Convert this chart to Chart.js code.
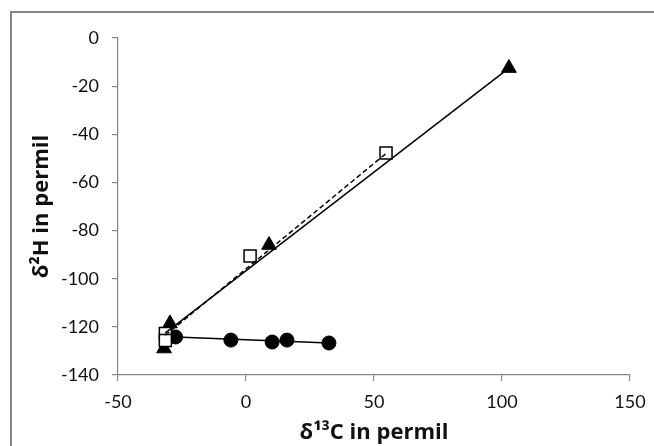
<!DOCTYPE html>
<html>
<head>
<meta charset="utf-8">
<script src="https://cdn.jsdelivr.net/npm/chart.js@4/dist/chart.umd.min.js"></script>
<style>
  html, body { margin: 0; padding: 0; background: #ffffff; }
  #wrap { width: 654px; height: 446px; position: relative; }
</style>
</head>
<body>
<div id="wrap"><canvas id="c" width="654" height="446"></canvas></div>
<script>
// ---- data ----
const circleX = [-27.5, -5.9, 10.2, 16.0, 32.4];
const circleY = [-124.2, -125.5, -126.3, -125.5, -126.7];

const triangleX = [-32.0, -29.7, 9.0, 102.7];
const triangleY = [-129.0, -118.6, -86.0, -12.5];

const squareX = [-31.5, -31.5, 1.6, 54.7];
const squareY = [-122.8, -125.7, -90.6, -47.8];

const triangleTrendX = [-31.6, 102.7];
const triangleTrendY = [-122.6, -12.5];
const squareTrendX = [-31.5, 54.7];
const squareTrendY = [-123.5, -48.0];
const circleTrendX = [-27.5, 32.4];
const circleTrendY = [-124.2, -126.7];

const xTicks = [-50, 0, 50, 100, 150];
const yTicks = [-140, -120, -100, -80, -60, -40, -20, 0];

const xTitle = 'δ¹³C in permil';
const yTitle = 'δ²H in permil';

function pts(xs, ys) { return xs.map((x, i) => ({ x: x, y: ys[i] })); }

const frame = {
  id: 'frame',
  beforeDraw(chart) {
    const ctx = chart.ctx;
    ctx.save();
    ctx.fillStyle = '#ffffff';
    ctx.fillRect(0, 0, chart.width, chart.height);
    ctx.strokeStyle = '#868686';
    ctx.lineWidth = 2;
    ctx.strokeRect(11, 12, 800, 600);
    ctx.restore();
  }
};

const tickFont = { family: 'Lato, "Open Sans", sans-serif', size: 18 };
const titleFont = { family: '"Open Sans", Lato, sans-serif', size: 22, weight: 'bold' };

new Chart(document.getElementById('c'), {
  type: 'scatter',
  data: {
    datasets: [
      { label: 'triangle trend', data: pts(triangleTrendX, triangleTrendY), showLine: true,
        borderColor: '#000', borderWidth: 1.5, pointRadius: 0, fill: false },
      { label: 'square trend', data: pts(squareTrendX, squareTrendY), showLine: true,
        borderColor: '#000', borderWidth: 1.5, borderDash: [5, 3], pointRadius: 0, fill: false },
      { label: 'circle trend', data: pts(circleTrendX, circleTrendY), showLine: true,
        borderColor: '#000', borderWidth: 1.5, pointRadius: 0, fill: false },
      { label: 'squares', data: pts(squareX, squareY), pointStyle: 'rect', pointRadius: 8.5,
        backgroundColor: '#fff', borderColor: '#000', borderWidth: 1.5 },
      { label: 'triangles', data: pts(triangleX, triangleY), pointStyle: 'triangle', pointRadius: 8.5,
        backgroundColor: '#000', borderColor: '#000', borderWidth: 1 },
      { label: 'circles', data: pts(circleX, circleY), pointStyle: 'circle', pointRadius: 7,
        backgroundColor: '#000', borderColor: '#000', borderWidth: 1 }
    ]
  },
  options: {
    responsive: false,
    animation: false,
    layout: { padding: { left: 0, top: 38, right: 24, bottom: 0 } },
    plugins: { legend: { display: false }, tooltip: { enabled: false } },
    elements: { point: { hoverRadius: 0 } },
    scales: {
      x: {
        type: 'linear', min: -50, max: 150,
        afterBuildTicks: (s) => { s.ticks = xTicks.map(v => ({ value: v })); },
        afterFit: (s) => { s.height = 71; s.paddingLeft = 0; s.paddingRight = 0; },
        ticks: { font: tickFont, color: '#111', padding: 10, maxRotation: 0 },
        grid: { display: true, drawOnChartArea: false, drawTicks: true, tickLength: 6, color: '#868686', lineWidth: 1.2 },
        border: { display: true, color: '#868686', width: 1.2 },
        title: { display: true, text: xTitle, font: titleFont, color: '#111', padding: { top: 0, bottom: 0 } }
      },
      y: {
        type: 'linear', min: -140, max: 0,
        afterBuildTicks: (s) => { s.ticks = yTicks.map(v => ({ value: v })); },
        afterFit: (s) => { s.width = 118; },
        ticks: { font: tickFont, color: '#111', padding: 13 },
        grid: { display: true, drawOnChartArea: false, drawTicks: true, tickLength: 6, color: '#868686', lineWidth: 1.2 },
        border: { display: true, color: '#868686', width: 1.2 },
        title: { display: true, text: yTitle, font: titleFont, color: '#111', padding: { top: 29, bottom: 0 } }
      }
    }
  },
  plugins: [frame]
});
</script>
</body>
</html>
